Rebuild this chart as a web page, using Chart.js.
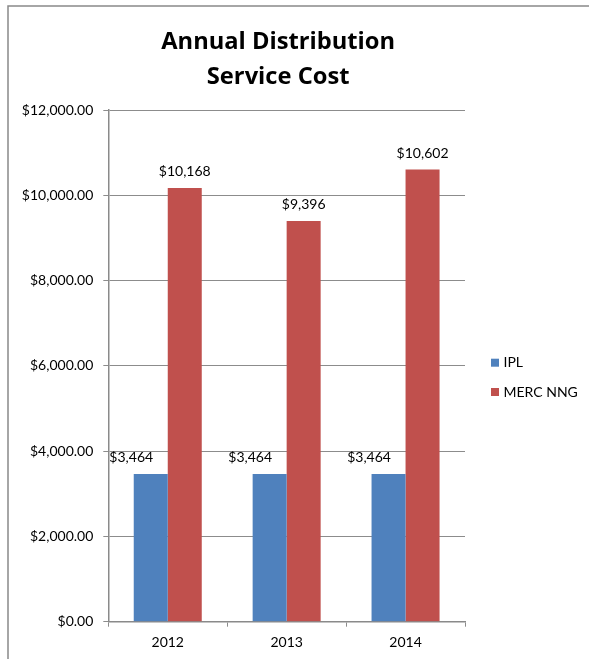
<!DOCTYPE html>
<html>
<head>
<meta charset="utf-8">
<script src="https://cdn.jsdelivr.net/npm/chart.js@4.4.0/dist/chart.umd.min.js"></script>
<style>
  html, body { margin: 0; padding: 0; background: #ffffff; }
  #wrap { width: 589px; height: 659px; position: relative; }
</style>
</head>
<body>
<div id="wrap"><canvas id="c" width="589" height="659"></canvas></div>
<script>
const categories = ['2012', '2013', '2014'];
const seriesNames = ['IPL', 'MERC NNG'];
const iplValues = [3464, 3464, 3464];
const mercValues = [10168, 9396, 10602];
const yTicks = [0, 2000, 4000, 6000, 8000, 10000, 12000];
const titleLines = ['Annual Distribution', 'Service Cost'];
const seriesColors = ['#4F81BD', '#C0504D'];

const FONT = 'Lato';
const TITLE_FONT = '"Open Sans"';
const FS = 14;
const GRID = '#8c8c8c';

function money2(v) {
  return '$' + v.toLocaleString('en-US', { minimumFractionDigits: 2, maximumFractionDigits: 2 });
}
function money0(v) {
  return '$' + v.toLocaleString('en-US', { maximumFractionDigits: 0 });
}

const frame = {
  id: 'frame',
  beforeDraw(chart) {
    const ctx = chart.ctx;
    ctx.save();
    ctx.fillStyle = '#ffffff';
    ctx.fillRect(0, 0, chart.width, chart.height);
    ctx.strokeStyle = '#898989';
    ctx.lineWidth = 1.5;
    ctx.strokeRect(8, 6, chart.width + 50, chart.height + 50);
    ctx.restore();
  }
};

const chartTitle = {
  id: 'chartTitle',
  afterDraw(chart) {
    const ctx = chart.ctx;
    const area = chart.chartArea;
    const cx = (area.left + area.right) / 2 - 8.5;
    ctx.save();
    ctx.font = 'bold 23.7px ' + TITLE_FONT;
    ctx.fillStyle = '#000000';
    ctx.textAlign = 'center';
    ctx.textBaseline = 'alphabetic';
    titleLines.forEach((line, i) => {
      ctx.fillText(line, cx, 48.5 + i * 35);
    });
    ctx.restore();
  }
};

const valueLabels = {
  id: 'valueLabels',
  afterDatasetsDraw(chart) {
    const ctx = chart.ctx;
    ctx.save();
    ctx.font = FS + 'px ' + FONT;
    ctx.fillStyle = '#000000';
    ctx.textAlign = 'center';
    ctx.textBaseline = 'middle';
    chart.data.datasets.forEach((ds, di) => {
      const meta = chart.getDatasetMeta(di);
      meta.data.forEach((bar, i) => {
        const dx = di === 0 ? -19.5 : 0;
        ctx.fillText(money0(ds.data[i]), bar.x + dx, bar.y - 16.5);
      });
    });
    ctx.restore();
  }
};

const sideLegend = {
  id: 'sideLegend',
  afterDraw(chart) {
    const ctx = chart.ctx;
    const area = chart.chartArea;
    const x0 = area.right + 26;
    const midY = (area.top + area.bottom) / 2 + 11.5;
    const gap = 29.3;
    ctx.save();
    ctx.font = FS + 'px ' + FONT;
    ctx.textAlign = 'left';
    ctx.textBaseline = 'middle';
    chart.data.datasets.forEach((ds, i) => {
      const y = midY + (i - 0.5) * gap;
      ctx.fillStyle = ds.backgroundColor;
      ctx.fillRect(x0, y - 4, 8, 8);
      ctx.fillStyle = '#000000';
      ctx.fillText(ds.label, x0 + 12.5, y);
    });
    ctx.restore();
  }
};

new Chart(document.getElementById('c'), {
  type: 'bar',
  data: {
    labels: categories,
    datasets: [
      { label: seriesNames[0], data: iplValues, backgroundColor: seriesColors[0], borderWidth: 0,
        categoryPercentage: 0.572, barPercentage: 1.0 },
      { label: seriesNames[1], data: mercValues, backgroundColor: seriesColors[1], borderWidth: 0,
        categoryPercentage: 0.572, barPercentage: 1.0 }
    ]
  },
  options: {
    responsive: false,
    animation: false,
    devicePixelRatio: 1,
    layout: { padding: { left: 0, top: 110, right: 124, bottom: 0 } },
    plugins: {
      legend: { display: false },
      tooltip: { enabled: false },
      title: { display: false }
    },
    scales: {
      x: {
        offset: true,
        grid: { display: true, drawOnChartArea: false, drawTicks: true, tickLength: 5, color: GRID, lineWidth: 1 },
        border: { display: true, color: '#8a8a8a', width: 1.5 },
        ticks: { color: '#000000', font: { family: FONT, size: FS }, padding: 7, maxRotation: 0 },
        afterFit(scale) { scale.height = 37.3; }
      },
      y: {
        min: 0,
        max: 12000,
        afterBuildTicks(scale) { scale.ticks = yTicks.map(v => ({ value: v })); },
        grid: { display: true, drawOnChartArea: true, drawTicks: true, tickLength: 5, color: GRID, lineWidth: 1 },
        border: { display: true, color: '#8a8a8a', width: 1.5 },
        ticks: { color: '#000000', font: { family: FONT, size: FS }, padding: 10, callback: (v) => money2(v) },
        afterFit(scale) { scale.width = 108.3; }
      }
    }
  },
  plugins: [frame, chartTitle, valueLabels, sideLegend]
});
</script>
</body>
</html>
